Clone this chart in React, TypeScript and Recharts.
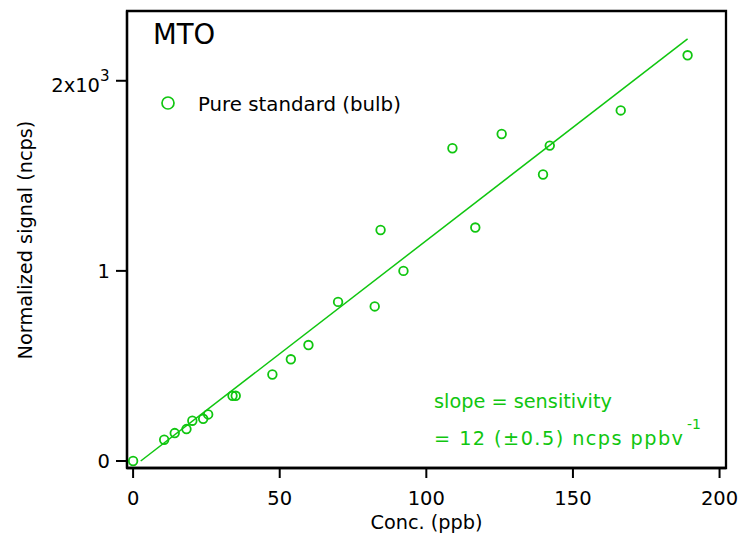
import React from 'react';
import { ScatterChart, Scatter, XAxis, YAxis, ReferenceArea } from 'recharts';

const concentration = [0, 10.6, 14.2, 18.2, 20.2, 23.9, 25.6, 33.9, 35.0, 47.5, 53.8, 59.8, 69.9, 82.4, 84.4, 92.2, 108.9, 116.7, 125.7, 139.8, 142.1, 166.3, 189.1];
const signal = [0, 112, 147, 168, 212, 222, 245, 343, 343, 455, 535, 610, 837, 813, 1215, 1000, 1645, 1228, 1720, 1507, 1659, 1844, 2134];
const fitConc = [2.6, 189.1];
const fitSignal = [0, 2220];
const xTicks = [0, 50, 100, 150, 200];
const yTicks = [0, 1000, 2000];
const xDomain = [-2.08, 202.2];
const yDomain = [-36.8, 2367];

const points = concentration.map((x, i) => ({ x, y: signal[i] }));
const fitLine = fitConc.map((x, i) => ({ x, y: fitSignal[i] }));

const GREEN = '#10c610';
const FONT = '"DejaVu Sans", Verdana, sans-serif';

const XTick = (props: any) => {
  const { x, y, payload } = props;
  return (
    <text x={x} y={y + 24.5} textAnchor="middle" fontSize={19.5} fontFamily={FONT} fill="#000">
      {payload.value}
    </text>
  );
};

const YTick = (props: any) => {
  const { x, y, payload } = props;
  const v = payload.value;
  if (v === 2000) {
    return (
      <g>
        <text x={x - 14} y={y + 11} textAnchor="end" fontSize={19.5} fontFamily={FONT} fill="#000">2x10</text>
        <text x={x - 14} y={y} textAnchor="start" fontSize={15} fontFamily={FONT} fill="#000">3</text>
      </g>
    );
  }
  return (
    <text x={x - 4} y={y + 7} textAnchor="end" fontSize={19.5} fontFamily={FONT} fill="#000">
      {v / 1000}
    </text>
  );
};

const OpenCircle = (props: any) => {
  const { cx, cy } = props;
  return <circle cx={cx} cy={cy} r={4.3} fill="none" stroke={GREEN} strokeWidth={1.8} />;
};

const NoShape = () => <g />;

export default function App() {
  return (
    <div style={{ position: 'absolute', left: 0, top: 0, width: 742, height: 537, background: '#fff' }}>
      <ScatterChart width={742} height={537} margin={{ top: 11, right: 16, bottom: 0, left: 0 }}>
        <XAxis
          dataKey="x"
          type="number"
          domain={xDomain}
          ticks={xTicks}
          allowDataOverflow
          height={69}
          tickSize={10}
          axisLine={{ stroke: '#000', strokeWidth: 2.3 }}
          tickLine={{ stroke: '#000', strokeWidth: 2 }}
          tick={<XTick />}
          interval={0}
        />
        <YAxis
          dataKey="y"
          type="number"
          domain={yDomain}
          ticks={yTicks}
          allowDataOverflow
          width={127}
          tickSize={11}
          axisLine={{ stroke: '#000', strokeWidth: 2.3 }}
          tickLine={{ stroke: '#000', strokeWidth: 2 }}
          tick={<YTick />}
          interval={0}
        />
        <ReferenceArea
          x1={xDomain[0]}
          x2={xDomain[1]}
          y1={yDomain[0]}
          y2={yDomain[1]}
          fill="none"
          fillOpacity={0}
          stroke="#000"
          strokeWidth={2.3}
          strokeOpacity={1}
          ifOverflow="visible"
        />
        <Scatter
          name="Fit"
          data={fitLine}
          line={{ stroke: GREEN, strokeWidth: 1.5 }}
          shape={NoShape}
          isAnimationActive={false}
        />
        <Scatter
          name="Pure standard (bulb)"
          data={points}
          shape={OpenCircle}
          isAnimationActive={false}
        />
      </ScatterChart>
      <svg
        width={742}
        height={537}
        style={{ position: 'absolute', left: 0, top: 0, pointerEvents: 'none' }}
      >
        <text x={153} y={44} fontSize={27.5} fontFamily={FONT} fill="#000">MTO</text>
        <circle cx={168} cy={103} r={6} fill="none" stroke={GREEN} strokeWidth={1.7} />
        <text x={198} y={111} fontSize={19.8} fontFamily={FONT} fill="#000">Pure standard (bulb)</text>
        <text x={434} y={408} fontSize={19.3} fontFamily={FONT} fill={GREEN}>slope = sensitivity</text>
        <text x={434} y={445} fontSize={19.3} fontFamily={FONT} fill={GREEN} textLength={249} lengthAdjust="spacing">
          = 12 (±0.5) ncps ppbv
        </text>
        <text x={687} y={429} fontSize={14} fontFamily={FONT} fill={GREEN}>-1</text>
        <text x={426.5} y={529} fontSize={19.3} fontFamily={FONT} fill="#000" textAnchor="middle">Conc. (ppb)</text>
        <text
          x={0}
          y={0}
          fontSize={19.3}
          fontFamily={FONT}
          fill="#000"
          textAnchor="middle"
          transform="translate(32 240) rotate(-90)"
        >
          Normalized signal (ncps)
        </text>
      </svg>
    </div>
  );
}
